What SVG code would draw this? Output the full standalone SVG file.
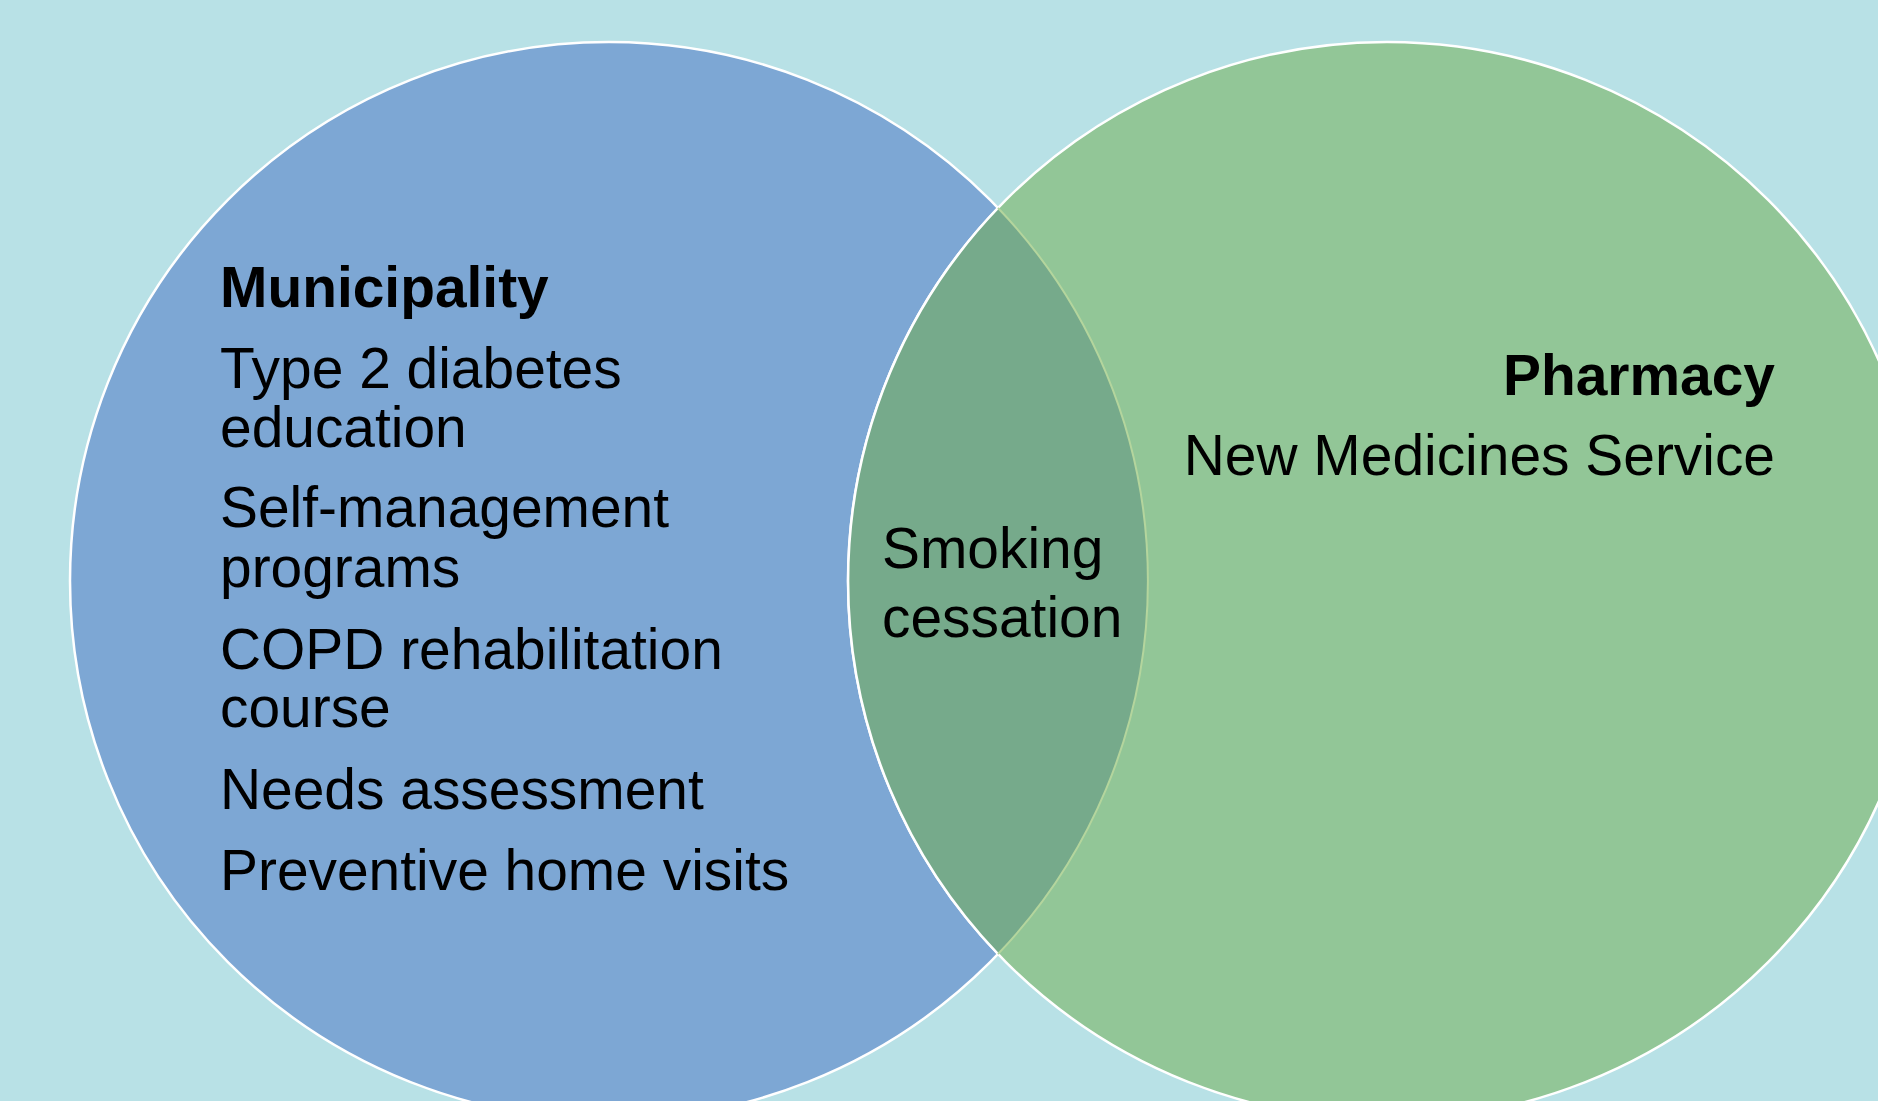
<svg xmlns="http://www.w3.org/2000/svg" width="1878" height="1101" viewBox="0 0 1878 1101">
  <style>
    .lbl { font-family: "Liberation Sans", Arial, sans-serif; font-size: 56.9px; fill: #000000; }
    .title { font-weight: bold; }
    .ring { stroke: #ffffff; stroke-width: 2.5; }
  </style>
  <!-- backdrop -->
  <rect x="0" y="0" width="1878" height="1101" fill="#B8E1E6"/>

  <g id="municipality">
    <circle class="ring" cx="609" cy="581" r="539" fill="#7DA7D4"/>
  </g>

  <g id="pharmacy">
    <circle class="ring" cx="1387" cy="581" r="539" fill="#92C697"/>
  </g>

  <g id="overlap">
    <!-- lens shared by both circles -->
    <path d="M 998 208 A 539 539 0 0 1 998 954 A 539 539 0 0 1 998 208 Z" fill="#76AA8B"/>
    <path d="M 998 208 A 539 539 0 0 0 998 954" fill="none" stroke="#ffffff" stroke-width="2.5"/>
    <path d="M 998 208 A 539 539 0 0 1 998 954" fill="none" stroke="#B4D59D" stroke-width="2"/>
  </g>

  <g id="municipality-text">
    <text class="lbl title" x="220" y="307">Municipality</text>
    <text class="lbl" x="220" y="388">Type 2 diabetes</text>
    <text class="lbl" x="220" y="447">education</text>
    <text class="lbl" x="220" y="527">Self-management</text>
    <text class="lbl" x="220" y="587">programs</text>
    <text class="lbl" x="220" y="669">COPD rehabilitation</text>
    <text class="lbl" x="220" y="727">course</text>
    <text class="lbl" x="220" y="809">Needs assessment</text>
    <text class="lbl" x="220" y="890">Preventive home visits</text>
  </g>

  <g id="overlap-text">
    <text class="lbl" x="882" y="568">Smoking</text>
    <text class="lbl" x="882" y="637">cessation</text>
  </g>

  <g id="pharmacy-text">
    <text class="lbl title" x="1775" y="395" text-anchor="end">Pharmacy</text>
    <text class="lbl" x="1775" y="475" text-anchor="end">New Medicines Service</text>
  </g>

  <!-- no connectors in this diagram -->
  <g id="connectors"/>
</svg>
